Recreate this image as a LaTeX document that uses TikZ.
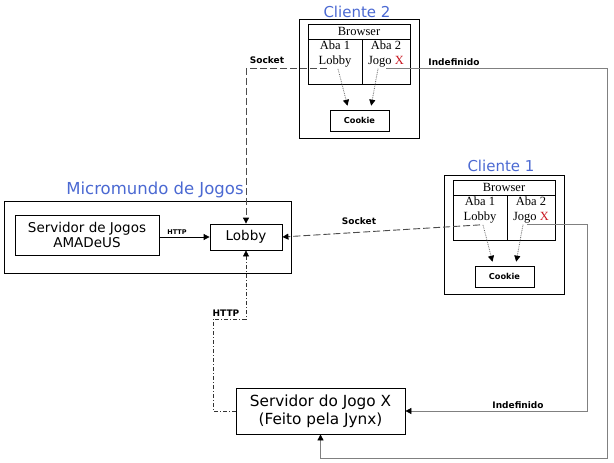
\documentclass[tikz,border=0pt]{standalone}
\usepackage{fontspec}
\setmainfont{Liberation Serif}
\newfontfamily\verd{DejaVu Sans}
\usetikzlibrary{arrows.meta}
\definecolor{title blue}{RGB}{75,105,210}
\definecolor{jogo red}{RGB}{200,20,30}
\colorlet{link gray}{black!50}
\colorlet{socket gray}{black!70}
\def\tip{{Triangle[length=6pt,width=6pt,color=black]}}
\tikzset{
  box/.style={draw, line width=0.8pt, inner sep=0pt},
  title/.style={font=\verd\fontsize{15}{18}\selectfont, text=title blue, inner sep=0pt},
  serif/.style={font=\fontsize{12.5}{14}\selectfont, inner sep=1pt},
  sans/.style={font=\verd\fontsize{13.5}{15.6}\selectfont},
  big sans/.style={font=\verd\fontsize{15.3}{18}\selectfont},
  tag/.style={font=\verd\bfseries\fontsize{9}{10}\selectfont, inner sep=0pt},
  cookie/.style={font=\verd\bfseries\fontsize{8.2}{9}\selectfont},
  socket/.style={draw=socket gray, line width=0.9pt, dash pattern=on 7pt off 3pt, -\tip},
  indef/.style={draw=link gray, line width=0.8pt, -\tip},
  http line/.style={draw=black!80, line width=0.6pt, dash pattern=on 4pt off 2pt on 1pt off 2pt, -\tip},
  tab arrow/.style={draw=black!60, line width=0.8pt, densely dotted, shorten >=4pt, -\tip}
}
\newcommand{\cliente}[4]{%
  \begin{scope}[shift={(#2)}]
    \node[box, minimum width=120pt, minimum height=119pt] (#1) at (60,59.5) {};
    \node[title] (#1title) at (#4) {#3};
    \node[box, serif, minimum width=102pt, minimum height=15pt] (#1head) at (60,12.5) {Browser};
    \node[box, minimum width=54pt, minimum height=45pt] (#1tab1) at (36,42.5) {};
    \node[box, minimum width=48pt, minimum height=45pt] (#1tab2) at (87,42.5) {};
    \node[serif] (#1aba1) at (36,26) {Aba 1};
    \node[serif] (#1lobby) at (36,43) {Lobby};
    \node[serif] (#1aba2) at (87,26) {Aba 2};
    \node[serif] (#1jogo) at (87,43) {Jogo \textcolor{jogo red}{X}};
    \node[box, cookie, minimum width=59pt, minimum height=21pt] (#1cookie) at (60.5,101.5) {Cookie};
    \draw[tab arrow] ([xshift=3pt]#1lobby.south) -- ([xshift=-11pt]#1cookie.north);
    \draw[tab arrow] ([xshift=-8pt]#1jogo.south) -- ([xshift=11pt]#1cookie.north);
  \end{scope}}

\begin{document}
\begin{tikzpicture}[x=1pt, y=-1pt]
  \useasboundingbox (0,0) rectangle (614,463);

  \cliente{c2}{299,19}{Cliente 2}{58,-7}
  \cliente{c1}{444,175}{Cliente 1}{57,-9}

  \node[title, font=\verd\fontsize{16.5}{18}\selectfont] (mtitle) at (155,190) {Micromundo de Jogos};
  \node[box, minimum width=287pt, minimum height=72pt] (micro) at (147.5,237) {};
  \node[box, sans, minimum width=144pt, minimum height=40pt, align=center] (amadeus) at (87,235) {Servidor de Jogos\\AMADeUS};
  \node[box, sans, minimum width=72pt, minimum height=26pt] (mlobby) at (246,237) {Lobby};
  \node[box, big sans, minimum width=169pt, minimum height=46pt, align=center] (sjogo) at (320.5,411) {Servidor do Jogo X\\(Feito pela Jynx)};

  \coordinate (c2bend) at (607,458);
  \coordinate (c1bend) at (587,411);
  \coordinate (hbend) at (213,319);

  \draw[line width=0.8pt, -\tip] (amadeus.east |- mlobby.west) -- (mlobby.west);
  \draw[socket] ([xshift=-8pt]c2lobby.south) -| (mlobby.north);
  \draw[socket] (c1lobby.south) -- (mlobby.east);
  \draw[indef] (c2jogo.south) -| (c2bend) -| (sjogo.south);
  \draw[indef] ([xshift=-4pt]c1jogo.south) -| (c1bend) -- (sjogo.east);
  \draw[http line] (sjogo.west) -| (hbend) -| (mlobby.south);

  \node[tag, font=\verd\bfseries\fontsize{6.5}{7}\selectfont] (http1) at (177,232) {HTTP};
  \node[tag] (http2) at (226,313) {HTTP};
  \node[tag] (sock2) at (267,60) {Socket};
  \node[tag] (sock1) at (359,221) {Socket};
  \node[tag] (indef2) at (454,62) {Indefinido};
  \node[tag] (indef1) at (518,405) {Indefinido};
\end{tikzpicture}
\end{document}
